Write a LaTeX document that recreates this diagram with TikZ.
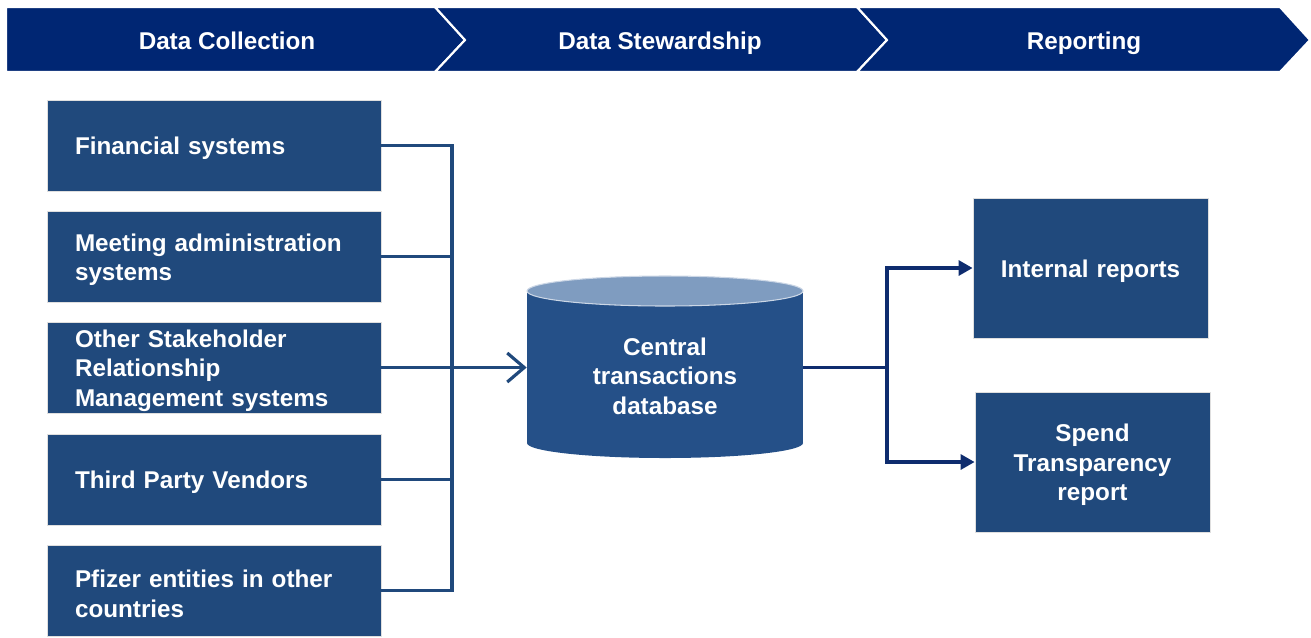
\documentclass[tikz,border=0pt]{standalone}
\usepackage{fontspec}
\setmainfont{Liberation Sans}
\usetikzlibrary{arrows.meta}
\definecolor{headblue}{RGB}{0,38,115}
\definecolor{boxblue}{RGB}{32,73,124}
\definecolor{dbblue}{RGB}{37,80,136}
\definecolor{dbtop}{RGB}{127,156,192}
\definecolor{linkblue}{RGB}{14,44,110}

\begin{document}
\begin{tikzpicture}[
            x=0.02cm, y=-0.02cm,
            every node/.style={font=\bfseries\fontsize{13.8}{16.8}\selectfont, text=white},
            headlabel/.style={text height=0.72em, text depth=0.2em},
            srcbox/.style={fill=boxblue, draw=gray!25, line width=0.5pt, minimum height=1.82cm,
                inner xsep=0.56cm, inner ysep=0pt, text width=5.56cm, align=left,
                execute at begin node={\rule{0pt}{13.6pt}}},
            repbox/.style={fill=boxblue, draw=gray!25, line width=0.5pt, minimum height=2.8cm,
                inner xsep=0.2cm, inner ysep=0pt, text width=4.3cm, align=center,
                execute at begin node={\rule{0pt}{13.6pt}}},
            feed/.style={draw=boxblue, line width=1.8pt, line join=miter},
            link/.style={draw=linkblue, line width=1.8pt, line join=miter},
        ]
            \useasboundingbox (0,0) rectangle (1311,637);
            \fill[headblue, draw=white, line width=1.2pt] (6,7) -- (435,7) -- (465,40) -- (435,72) -- (6,72) -- cycle;
            \fill[headblue, draw=white, line width=1.2pt] (435,7) -- (857,7) -- (887,40) -- (857,72) -- (435,72) -- (465,40) -- cycle;
            \fill[headblue, draw=white, line width=1.2pt] (857,7) -- (1280,7) -- (1310,40) -- (1280,72) -- (857,72) -- (887,40) -- cycle;
            \node[headlabel] (hd1) at (227,45) {Data Collection};
            \node[headlabel] (hd2) at (660,45) {Data Stewardship};
            \node[headlabel] (hd3) at (1084,45) {Reporting};

            \node[srcbox] (s1) at (214,145.5) {Financial systems};
            \node[srcbox] (s2) at (214,256.5) {Meeting administration\\systems};
            \node[srcbox] (s3) at (214,367.5) {Other Stakeholder\\Relationship\\Management systems};
            \node[srcbox] (s4) at (214,479.5) {Third Party Vendors};
            \node[srcbox] (s5) at (214,590.5) {Pfizer entities in other\\countries};

            \fill[dbblue] (527,291) rectangle (803,443);
            \fill[dbblue] (665,443) ellipse [x radius=138, y radius=15];
            \fill[dbtop, draw=white!60!dbtop, line width=0.6pt] (665,291) ellipse [x radius=138, y radius=15];
            \node[minimum width=5.52cm, minimum height=3.64cm] (db) at (665,367.5) {};
            \node[align=center] (dbtext) at (665,376) {Central\\transactions\\database};

            \node[repbox] (r1) at (1090.5,268) {Internal reports};
            \node[repbox] (r2) at (1092.5,462) {Spend\\Transparency\\report};

            \draw[feed] (s1.east) -- (452,145.5) coordinate (bustop) |- (s5.east);
            \draw[feed] (s2.east) -- (s2.east -| bustop);
            \draw[feed] (s4.east) -- (s4.east -| bustop);
            \draw[feed, -{Straight Barb[length=0.34cm, width=0.58cm]}] (s3.east) -- (db.west);

            \draw[link] (db.east) -- (887,367.5) coordinate (split);
            \draw[link, -{Triangle[length=0.28cm, width=0.3cm]}] (split) |- (r1.west);
            \draw[link, -{Triangle[length=0.28cm, width=0.3cm]}] (split) |- (r2.west);
        \end{tikzpicture}
\end{document}
